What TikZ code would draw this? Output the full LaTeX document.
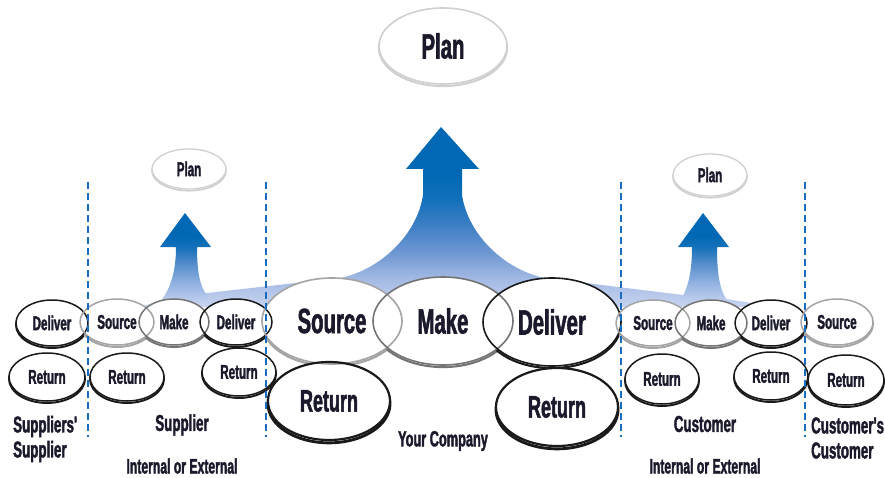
\documentclass[tikz,border=0pt]{standalone}
\usepackage{fontspec}
\newfontfamily\cf{Liberation Sans}[FakeStretch=0.58, FakeBold=1.6]
\usetikzlibrary{shapes.geometric}
\pgfdeclarelayer{bandlayer}
\pgfdeclarelayer{shadowlayer}
\pgfdeclarelayer{filllayer}
\pgfsetlayers{bandlayer,shadowlayer,filllayer,main}
\definecolor{deep}{HTML}{0068B4}
\definecolor{pal}{HTML}{C8D4F0}
\definecolor{bA}{HTML}{A2B9E4}
\definecolor{bB}{HTML}{6F98D2}
\definecolor{bC}{HTML}{3C7EC4}
\definecolor{bD}{HTML}{1270BA}
\definecolor{spal}{HTML}{C0CFEE}
\definecolor{sA}{HTML}{8FB0E0}
\definecolor{sB}{HTML}{4B88C8}
\definecolor{sC}{HTML}{1A72BB}
\definecolor{txt}{HTML}{1A1A2C}
\definecolor{srcgray}{HTML}{A4A4A4}
\definecolor{makegray}{HTML}{747474}
\definecolor{blk}{HTML}{1A1A1A}
\definecolor{plangray}{HTML}{D0D0D0}
\definecolor{dashblue}{HTML}{1A6CC0}
\pgfdeclareverticalshading{bigblue}{100bp}{color(0bp)=(pal); color(25bp)=(pal); color(33bp)=(bA); color(40bp)=(bB); color(48bp)=(bC); color(55bp)=(bD); color(62bp)=(deep); color(100bp)=(deep)}
\pgfdeclareverticalshading{smallblue}{100bp}{color(0bp)=(spal); color(25bp)=(spal); color(36bp)=(sA); color(48bp)=(sB); color(55bp)=(sC); color(62bp)=(deep); color(100bp)=(deep)}
\tikzset{
  oval/.style={ellipse, inner sep=0pt, outer sep=0pt, text=txt},
  bigtxt/.style={font=\cf\bfseries\fontsize{35}{36}\selectfont},
  rettxt/.style={font=\cf\bfseries\fontsize{31}{32}\selectfont},
  smalltxt/.style={font=\cf\bfseries\fontsize{20}{21}\selectfont},
  sectxt/.style={text=txt, inner sep=0pt, font=\cf\bfseries\fontsize{23}{25}\selectfont},
  subtxt/.style={text=txt, inner sep=0pt, font=\cf\bfseries\fontsize{21}{22}\selectfont},
  sep/.style={draw=dashblue, line width=2pt, dash pattern=on 7pt off 4pt}
}
% name, x, y, w, h, color, linewidth, style, text
\newcommand\ovalnode[9]{%
  \begin{pgfonlayer}{shadowlayer}
    \draw[draw=#6, line width=1.3*#7pt] (#2,#3+1.3*#7) ellipse [x radius=#4/2, y radius=#5/2];
  \end{pgfonlayer}
  \begin{pgfonlayer}{filllayer}
    \fill[white] (#2,#3) ellipse [x radius=#4/2, y radius=#5/2];
  \end{pgfonlayer}
  \node[oval, draw=#6, line width=#7pt, minimum width=#4pt, minimum height=#5pt, #8] (#1) at (#2,#3) {#9};
}
\begin{document}
\begin{tikzpicture}[x=1pt, y=-1pt]
\useasboundingbox (0,0) rectangle (885,478);
\begin{pgfonlayer}{bandlayer}
  \fill[white] (0,0) rectangle (885,478);
  \shade[shading=bigblue] (138,307) -- (170,299) -- (207,293) -- (340,278)
     .. controls (380,270) and (417,235) .. (423,195) -- (423,169) -- (406,169)
     -- (441,127) -- (479,169) -- (462,169) -- (462,195)
     .. controls (468,235) and (505,270) .. (545,278) -- (683,295) -- (726,299)
     -- (758,304) -- (758,307) -- cycle;
  \shade[shading=smallblue] (185,213) -- (211,247) -- (197,247)
     .. controls (197,272) and (200,287) .. (207,295) -- (207,302) -- (160,302)
     .. controls (170,290) and (176,272) .. (176,247) -- (160,247) -- cycle;
  \shade[shading=smallblue] (703,213) -- (729,247) -- (717,247)
     .. controls (717,275) and (720,292) .. (728,301) -- (680,301)
     .. controls (687,290) and (692,275) .. (692,247) -- (678,247) -- cycle;
\end{pgfonlayer}

% Plan ellipses
\ovalnode{planbig}{443}{46}{128}{76}{plangray}{1.6}{bigtxt}{Plan}
\ovalnode{planL}{189}{169}{74}{40}{plangray}{1.3}{smalltxt}{Plan}
\ovalnode{planR}{710}{175}{74}{42}{plangray}{1.3}{smalltxt}{Plan}

% Supplier's supplier
\ovalnode{ssdel}{52}{323}{72}{46}{blk}{1.5}{smalltxt}{Deliver}
\ovalnode{ssret}{47}{377}{76}{48}{blk}{1.5}{smalltxt}{Return}

% Supplier
\ovalnode{supsrc}{117}{322}{74}{46}{srcgray}{1.5}{smalltxt}{Source}
\ovalnode{supmake}{174}{322}{70}{46}{makegray}{1.5}{smalltxt}{Make}
\ovalnode{supdel}{236}{322}{72}{46}{blk}{1.5}{smalltxt}{Deliver}
\ovalnode{supretL}{127}{377}{74}{48}{blk}{1.5}{smalltxt}{Return}
\ovalnode{supretR}{239}{372}{74}{48}{blk}{1.5}{smalltxt}{Return}

% Your company
\ovalnode{ysrc}{332}{321}{140}{86}{srcgray}{1.6}{bigtxt}{Source}
\ovalnode{ymake}{443}{321}{140}{88}{makegray}{1.6}{bigtxt}{Make}
\ovalnode{ydel}{552}{322}{138}{88}{blk}{1.6}{bigtxt}{Deliver}
\ovalnode{yretL}{329}{401}{122}{78}{blk}{2.2}{rettxt}{Return}
\ovalnode{yretR}{557}{407}{122}{78}{blk}{2.2}{rettxt}{Return}

% Customer
\ovalnode{csrc}{653}{323}{74}{46}{srcgray}{1.5}{smalltxt}{Source}
\ovalnode{cmake}{711}{323}{72}{46}{makegray}{1.5}{smalltxt}{Make}
\ovalnode{cdel}{771}{323}{72}{46}{blk}{1.5}{smalltxt}{Deliver}
\ovalnode{cretL}{662}{379}{74}{50}{blk}{1.5}{smalltxt}{Return}
\ovalnode{cretR}{771}{376}{74}{48}{blk}{1.5}{smalltxt}{Return}

% Customer's customer
\ovalnode{ccsrc}{837}{322}{72}{46}{srcgray}{1.5}{smalltxt}{Source}
\ovalnode{ccret}{846}{380}{76}{50}{blk}{1.5}{smalltxt}{Return}

% separators
\draw[sep] (88,182) -- (88,437);
\draw[sep] (266,182) -- (266,437);
\draw[sep] (621,182) -- (621,437);
\draw[sep] (805,182) -- (805,437);

% section labels
\node[sectxt, align=left, anchor=west] (lss) at (13,439) {Suppliers'\\Supplier};
\node[sectxt] (lsup) at (182,425) {Supplier};
\node[subtxt] (lsupie) at (182,466) {Internal or External};
\node[subtxt, font=\cf\bfseries\fontsize{22}{24}\selectfont] (lyou) at (443,441) {Your Company};
\node[sectxt] (lcust) at (705,424) {Customer};
\node[subtxt] (lcustie) at (705,466) {Internal or External};
\node[sectxt, align=left, anchor=west] (lcc) at (811,438) {Customer's\\Customer};
\end{tikzpicture}
\end{document}
